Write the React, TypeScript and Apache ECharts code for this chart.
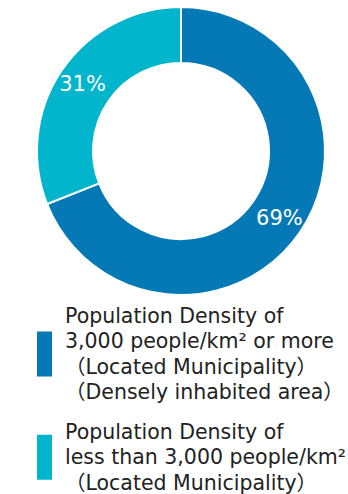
import React, { useEffect, useRef } from "react";
import * as echarts from "echarts";

const categories = [
  "Population Density of\n3,000 people/km² or more\n（Located Municipality）\n（Densely inhabited area）",
  "Population Density of\nless than 3,000 people/km²\n（Located Municipality）",
];
const values = [69, 31];
const colors = ["#0579B5", "#00B5CC"];

export default function App() {
  const ref = useRef<HTMLDivElement>(null);
  useEffect(() => {
    const chart = echarts.init(ref.current!, null, { renderer: "svg" });
    chart.setOption({
      animation: false,
      color: colors,
      legend: {
        orient: "vertical",
        left: 30,
        top: 298,
        itemWidth: 17,
        itemHeight: 47,
        itemGap: 14,
        icon: "rect",
        selectedMode: false,
        textStyle: {
          fontFamily: "DejaVu Sans, Noto Sans CJK JP",
          fontSize: 20.5,
          lineHeight: 25.5,
          color: "#222",
          padding: [0, 0, 0, 7],
        },
        data: categories,
      },
      series: [
        {
          type: "pie",
          center: [181, 151],
          radius: [88, 144],
          startAngle: 90,
          clockwise: true,
          silent: true,
          itemStyle: { borderColor: "#fff", borderWidth: 2 },
          label: {
            position: "inside",
            formatter: "{d}%",
            color: "#fff",
            fontSize: 21,
            fontFamily: "DejaVu Sans",
          },
          labelLine: { show: false },
          data: categories.map((name, i) => ({ name, value: values[i] })),
        },
      ],
    });
    return () => chart.dispose();
  }, []);
  return <div ref={ref} style={{ width: 348, height: 494, position: "absolute", left: 0, top: 0 }} />;
}
